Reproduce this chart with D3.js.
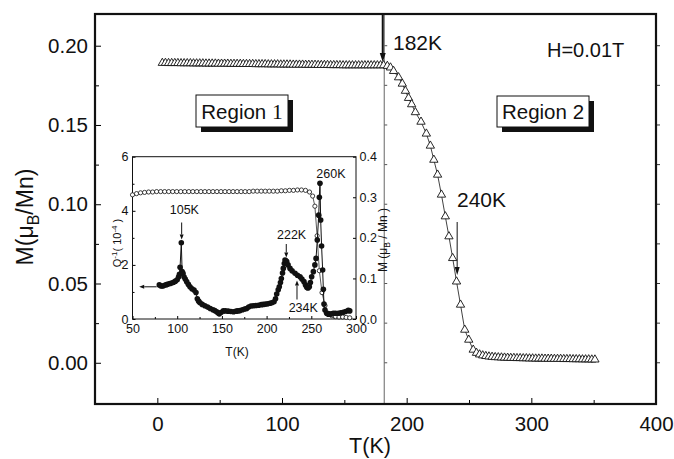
<!DOCTYPE html>
<html>
<head>
<meta charset="utf-8">
<script src="https://cdn.jsdelivr.net/npm/d3@7"></script>
<style>
  body { margin: 0; background: #fff; }
  text { font-family: "Liberation Sans", Arial, sans-serif; fill: #111; }
</style>
</head>
<body>
<div id="chart"></div>
<script>
"use strict";

// main curve, M (muB/Mn) vs T (K), H = 0.01T   [T, M]
var mainData = [
  [4,0.1891],[6.5,0.1891],[9,0.1890],[11.5,0.1890],[14,0.1890],[16.5,0.1890],[19,0.1889],[21.5,0.1889],
  [24,0.1889],[26.5,0.1889],[29,0.1888],[31.5,0.1888],[34,0.1888],[36.5,0.1888],[39,0.1887],[41.5,0.1887],
  [44,0.1887],[46.5,0.1887],[49,0.1886],[51.5,0.1886],[54,0.1886],[56.5,0.1886],[59,0.1885],[61.5,0.1885],
  [64,0.1885],[66.5,0.1885],[69,0.1884],[71.5,0.1884],[74,0.1884],[76.5,0.1884],[79,0.1883],[81.5,0.1883],
  [84,0.1883],[86.5,0.1883],[89,0.1882],[91.5,0.1882],[94,0.1882],[96.5,0.1882],[99,0.1881],[101.5,0.1881],
  [104,0.1881],[106.5,0.1881],[109,0.1880],[111.5,0.1880],[114,0.1880],[116.5,0.1880],[119,0.1879],[121.5,0.1879],
  [124,0.1879],[126.5,0.1879],[129,0.1878],[131.5,0.1878],[134,0.1878],[136.5,0.1878],[139,0.1877],[141.5,0.1877],
  [144,0.1877],[146.5,0.1877],[149,0.1876],[151.5,0.1876],[154,0.1876],[156.5,0.1876],[159,0.1876],[161.5,0.1876],
  [164,0.1876],[166.5,0.1876],[169,0.1876],[171.5,0.1876],[174,0.1876],[176.5,0.1876],[179,0.1876],[181.5,0.1876],
  [184.5,0.1872],[187,0.1862],[189.5,0.1840],[193.5,0.1800],[196.5,0.1760],[199,0.1715],[201.5,0.1670],[204,0.1630],
  [207,0.1580],[211.5,0.1520],[215.8,0.1445],[219,0.1369],[221.8,0.1280],[224.8,0.1186],[227.9,0.1060],[231,0.0923],
  [233.9,0.0797],[236.9,0.0660],[240,0.0512],[243.2,0.0366],[246.6,0.0208],[249.8,0.0145],[253.4,0.0082],
  [256,0.0062],[258.5,0.0052],[261,0.0046],[263.5,0.0042],[266,0.0039],[268.5,0.0037],[271,0.0035],[273.5,0.0034],
  [276,0.0033],[278.5,0.0032],[281,0.0031],[283.5,0.0030],[286,0.0030],[288.5,0.0029],[291,0.0029],[293.5,0.0028],
  [296,0.0028],[298.5,0.0027],[301,0.0027],[303.5,0.0026],[306,0.0026],[308.5,0.0026],[311,0.0025],[313.5,0.0025],
  [316,0.0025],[318.5,0.0024],[321,0.0024],[323.5,0.0024],[326,0.0023],[328.5,0.0023],[331,0.0023],[333.5,0.0022],
  [336,0.0022],[338.5,0.0022],[341,0.0021],[343.5,0.0021],[346,0.0021],[348.5,0.0020],[351,0.0020]
];

// inset: M (open circles, right axis)   [T, M]
var insetM = [
  [50,0.306],[54.5,0.309],[59,0.311],[63.5,0.312],[68,0.313],[72.5,0.313],[77,0.314],[81.5,0.314],
  [86,0.314],[90.5,0.314],[95,0.314],[99.5,0.314],[104,0.314],[108.5,0.314],[113,0.314],[117.5,0.314],
  [122,0.314],[126.5,0.314],[131,0.314],[135.5,0.314],[140,0.314],[144.5,0.314],[149,0.314],[153.5,0.314],
  [158,0.314],[162.5,0.314],[167,0.314],[171.5,0.314],[176,0.314],[180.5,0.314],[185,0.315],[189.5,0.315],
  [194,0.315],[198.5,0.315],[203,0.315],[207.5,0.315],[212,0.315],[216.5,0.316],[221,0.316],[225.5,0.317],
  [230,0.317],[234.5,0.318],[239,0.318],[243.5,0.317],[248,0.313],[251.5,0.303],[254,0.278],[256.5,0.205],
  [259,0.119],[262,0.065],[265.3,0.033],[269,0.014],[273,0.008],[277,0.006],[281,0.005],[285,0.005],
  [289,0.004],[293,0.003]
];

// inset: internal friction Q^-1 (filled circles, left axis, 1e-4)   [T, Q]
var insetQ = [
  [80,1.26],[82,1.22],[84,1.22],[86,1.25],[88,1.27],[90,1.29],[92,1.31],[94,1.33],[96,1.36],[98,1.40],
  [100,1.45],[101.5,1.55],[102.5,1.65],[103.2,1.91],[104.6,2.82],[105.5,1.75],[106.5,1.69],[107.6,1.56],
  [109,1.48],[110.6,1.38],[112.5,1.28],[114.3,1.19],[116.5,1.12],[118.8,1.07],[121,0.98],[122.5,0.75],
  [124,0.66],[125.5,0.60],[128,0.54],[131,0.49],[134,0.44],[137,0.39],[140,0.34],[142,0.31],[144.2,0.27],
  [146,0.22],[147.1,0.19],[149,0.24],[151.6,0.30],[154,0.30],[157,0.29],[160,0.28],[163,0.27],[166,0.29],
  [168,0.30],[170.3,0.31],[173,0.34],[175.5,0.37],[177.7,0.39],[180,0.44],[182.5,0.48],[185.2,0.49],
  [188,0.50],[191,0.51],[194,0.53],[196.3,0.54],[199,0.55],[201.5,0.56],[203.8,0.58],[206,0.60],[208.3,0.64],
  [210,0.75],[211.3,0.92],[213,1.08],[214.2,1.19],[215.5,1.35],[216.5,1.50],[217.8,1.70],[218.7,1.87],
  [219.8,2.05],[220.6,2.18],[221.5,2.15],[222.5,2.12],[224,2.00],[226.2,1.87],[228.5,1.78],[231.8,1.69],
  [234.5,1.62],[237.4,1.56],[239.5,1.48],[241.8,1.38],[243.5,1.26],[244.9,1.17],[246.3,1.15],[247.8,1.19],
  [249,1.35],[250.4,1.56],[252.3,1.75],[254,2.00],[255.3,2.24],[256.7,2.92],[258.3,3.84],[259,4.50],
  [259.7,5.02],[260.5,3.66],[261.5,2.70],[262.7,1.81],[263.5,1.10],[264.2,0.55],[265.3,0.33],[267.2,0.21],
  [269,0.18],[270.9,0.18],[273,0.19],[274.6,0.21],[277,0.21],[280.2,0.21],[283,0.23],[285.8,0.25],
  [288.5,0.28],[291.4,0.32],[293,0.30]
];

var xTicks = [0, 100, 200, 300, 400];
var xMinor = [-50, 50, 150, 250, 350];
var yTicks = [0, 0.05, 0.10, 0.15, 0.20];
var yMinor = [0.025, 0.075, 0.125, 0.175];
var insetXTicks = [50, 100, 150, 200, 250, 300];
var insetXMinor = [75, 125, 175, 225, 275];
var insetQTicks = [0, 2, 4, 6];
var insetQMinor = [1, 3, 5];
var insetMTicks = [0, 0.1, 0.2, 0.3, 0.4];
var transitionT = 182;

var svg = d3.select("#chart").append("svg")
  .attr("width", 674)
  .attr("height", 459);

var x = d3.scaleLinear().domain([-50, 400]).range([95, 656]);
var y = d3.scaleLinear().domain([-0.026, 0.22]).range([404, 14]);

// arrow helper: shaft plus filled head at (x2, y2)
function arrow(g, x1, y1, x2, y2, sw, hl, hw) {
  var dx = x2 - x1, dy = y2 - y1, len = Math.sqrt(dx * dx + dy * dy);
  var ux = dx / len, uy = dy / len;
  var bx = x2 - ux * hl, by = y2 - uy * hl;
  g.append("line")
    .attr("x1", x1).attr("y1", y1)
    .attr("x2", bx).attr("y2", by)
    .attr("stroke", "#111")
    .attr("stroke-width", sw);
  g.append("path")
    .attr("d", "M" + x2 + "," + y2 +
      "L" + (bx - uy * hw / 2) + "," + (by + ux * hw / 2) +
      "L" + (bx + uy * hw / 2) + "," + (by - ux * hw / 2) + "Z")
    .attr("fill", "#111");
}

//// main axes
svg.append("g")
  .attr("transform", "translate(95,0)")
  .call(d3.axisLeft(y).tickValues(yTicks).tickSize(-6).tickPadding(7).tickFormat(d3.format(".2f")))
  .call(function(g) { g.select(".domain").remove(); })
  .selectAll("text").attr("font-size", 20.5).attr("font-family", "Liberation Sans, Arial, sans-serif");
svg.append("g")
  .attr("transform", "translate(95,0)")
  .call(d3.axisLeft(y).tickValues(yMinor).tickSize(-4).tickFormat(""))
  .call(function(g) { g.select(".domain").remove(); });

svg.append("g")
  .attr("transform", "translate(0,404)")
  .call(d3.axisBottom(x).tickValues(xTicks).tickSize(-6).tickPadding(12).tickFormat(d3.format("d")))
  .call(function(g) { g.select(".domain").remove(); })
  .selectAll("text").attr("font-size", 20.5).attr("font-family", "Liberation Sans, Arial, sans-serif");
svg.append("g")
  .attr("transform", "translate(0,404)")
  .call(d3.axisBottom(x).tickValues(xMinor).tickSize(-4).tickFormat(""))
  .call(function(g) { g.select(".domain").remove(); });

// mirrored ticks on right frame and on the 182K line
var allY = yTicks.concat(yMinor);
svg.append("g").selectAll("line").data(allY).enter().append("line")
  .attr("x1", 656).attr("x2", 660)
  .attr("y1", function(d) { return y(d); })
  .attr("y2", function(d) { return y(d); })
  .attr("stroke", "#333").attr("stroke-width", 1);
svg.append("g").selectAll("line").data(allY).enter().append("line")
  .attr("x1", x(transitionT)).attr("x2", x(transitionT) + 3)
  .attr("y1", function(d) { return y(d); })
  .attr("y2", function(d) { return y(d); })
  .attr("stroke", "#555").attr("stroke-width", 1);

svg.append("line")
  .attr("x1", x(transitionT)).attr("x2", x(transitionT))
  .attr("y1", 14).attr("y2", 404)
  .attr("stroke", "#666").attr("stroke-width", 1);

svg.append("rect")
  .attr("x", 95).attr("y", 14)
  .attr("width", 561).attr("height", 390)
  .attr("fill", "none").attr("stroke", "#111").attr("stroke-width", 2.2);

svg.append("text")
  .attr("x", 370).attr("y", 453)
  .attr("text-anchor", "middle")
  .attr("font-size", 21.5)
  .text("T(K)");

var yTitle = svg.append("text")
  .attr("transform", "translate(33,217) rotate(-90)")
  .attr("text-anchor", "middle")
  .attr("font-size", 23);
yTitle.append("tspan").text("M(\u03bc");
yTitle.append("tspan").attr("font-size", 16).attr("dy", 6).text("B");
yTitle.append("tspan").attr("dy", -6).text("/Mn)");

//// main curve
var line = d3.line()
  .x(function(d) { return x(d[0]); })
  .y(function(d) { return y(d[1]); });

svg.append("path")
  .datum(mainData)
  .attr("d", line)
  .attr("fill", "none")
  .attr("stroke", "#111")
  .attr("stroke-width", 0.8);

var tri = d3.symbol().type(d3.symbolTriangle).size(30);
svg.append("g").selectAll("path").data(mainData).enter().append("path")
  .attr("d", tri)
  .attr("transform", function(d) { return "translate(" + x(d[0]) + "," + y(d[1]) + ")"; })
  .attr("fill", "#fff")
  .attr("stroke", "#111")
  .attr("stroke-width", 0.9);

//// annotations
var ann = svg.append("g");
arrow(ann, x(transitionT) - 1.5, 15, x(transitionT) - 1.5, 62, 2, 9, 6);
ann.append("text").attr("x", 393).attr("y", 50).attr("font-size", 21).text("182K");
ann.append("text").attr("x", 547).attr("y", 57).attr("font-size", 20).text("H=0.01T");
arrow(ann, x(240.5), 222, x(240.5), 275, 1, 8, 5);
ann.append("text").attr("x", 457).attr("y", 207).attr("font-size", 21).text("240K");

function regionBox(bx, by, bw, bh, label, num, serif) {
  ann.append("rect")
    .attr("x", bx + 5).attr("y", by + 5)
    .attr("width", bw).attr("height", bh)
    .attr("fill", "#111");
  ann.append("rect")
    .attr("x", bx).attr("y", by)
    .attr("width", bw).attr("height", bh)
    .attr("fill", "#fff").attr("stroke", "#111").attr("stroke-width", 1);
  var t = ann.append("text")
    .attr("x", bx + bw / 2).attr("y", by + bh - 8)
    .attr("text-anchor", "middle")
    .attr("font-size", 20.5);
  t.append("tspan").text(label);
  var n = t.append("tspan").text(num);
  if (serif) n.style("font-family", "'Liberation Serif', 'Times New Roman', serif").attr("font-size", 21.5);
}
regionBox(196, 95, 92, 32, "Region ", "1", true);
regionBox(497, 96, 92, 31, "Region ", "2", false);

//// inset
var xi = d3.scaleLinear().domain([50, 300]).range([132.5, 356]);
var yq = d3.scaleLinear().domain([0, 6]).range([319, 156.7]);
var ym = d3.scaleLinear().domain([0, 0.4]).range([319, 156.7]);
var inset = svg.append("g");

inset.append("rect")
  .attr("x", 132.5).attr("y", 156.7)
  .attr("width", 223.5).attr("height", 162.3)
  .attr("fill", "#fff");

function styleInsetText(sel) {
  sel.selectAll("text").attr("font-size", 12.5).attr("font-family", "Liberation Sans, Arial, sans-serif");
}
inset.append("g")
  .attr("transform", "translate(132.5,0)")
  .call(d3.axisLeft(yq).tickValues(insetQTicks).tickSize(-3).tickPadding(4).tickFormat(d3.format("d")))
  .call(function(g) { g.select(".domain").remove(); })
  .call(styleInsetText);
inset.append("g")
  .attr("transform", "translate(132.5,0)")
  .call(d3.axisLeft(yq).tickValues(insetQMinor).tickSize(-2).tickFormat(""))
  .call(function(g) { g.select(".domain").remove(); });
inset.append("g")
  .attr("transform", "translate(356,0)")
  .call(d3.axisRight(ym).tickValues(insetMTicks).tickSize(-3).tickPadding(3.5).tickFormat(d3.format(".1f")))
  .call(function(g) { g.select(".domain").remove(); })
  .call(styleInsetText);
inset.append("g")
  .attr("transform", "translate(0,319)")
  .call(d3.axisBottom(xi).tickValues(insetXTicks).tickSize(-3).tickPadding(5).tickFormat(d3.format("d")))
  .call(function(g) { g.select(".domain").remove(); })
  .call(styleInsetText);
inset.append("g")
  .attr("transform", "translate(0,319)")
  .call(d3.axisBottom(xi).tickValues(insetXMinor).tickSize(-2).tickFormat(""))
  .call(function(g) { g.select(".domain").remove(); });

inset.append("rect")
  .attr("x", 132.5).attr("y", 156.7)
  .attr("width", 223.5).attr("height", 162.3)
  .attr("fill", "none").attr("stroke", "#111").attr("stroke-width", 1);

inset.append("text")
  .attr("x", 237).attr("y", 356)
  .attr("text-anchor", "middle")
  .attr("font-size", 12)
  .text("T(K)");

var qTitle = inset.append("text")
  .attr("transform", "translate(121,243) rotate(-90)")
  .attr("text-anchor", "middle")
  .attr("font-size", 11);
qTitle.append("tspan").text("Q");
qTitle.append("tspan").attr("font-size", 8).attr("dy", -4).text("-1");
qTitle.append("tspan").attr("dy", 4).text("( 10");
qTitle.append("tspan").attr("font-size", 8).attr("dy", -4).text("-4");
qTitle.append("tspan").attr("dy", 4).text(" )");

var mTitle = inset.append("text")
  .attr("transform", "translate(387,240) rotate(-90)")
  .attr("text-anchor", "middle")
  .attr("font-size", 12);
mTitle.append("tspan").text("M (\u03bc");
mTitle.append("tspan").attr("font-size", 8.5).attr("dy", 3).text("B");
mTitle.append("tspan").attr("dy", -3).text(" / Mn )");

var lineM = d3.line()
  .x(function(d) { return xi(d[0]); })
  .y(function(d) { return ym(d[1]); });
var lineQ = d3.line()
  .x(function(d) { return xi(d[0]); })
  .y(function(d) { return yq(d[1]); });

inset.append("path").datum(insetM).attr("d", lineM)
  .attr("fill", "none").attr("stroke", "#111").attr("stroke-width", 0.7);
inset.append("g").selectAll("circle").data(insetM).enter().append("circle")
  .attr("cx", function(d) { return xi(d[0]); })
  .attr("cy", function(d) { return ym(d[1]); })
  .attr("r", 2.1)
  .attr("fill", "#fff")
  .attr("stroke", "#111")
  .attr("stroke-width", 0.8);

inset.append("path").datum(insetQ).attr("d", lineQ)
  .attr("fill", "none").attr("stroke", "#111").attr("stroke-width", 1);
inset.append("g").selectAll("circle").data(insetQ).enter().append("circle")
  .attr("cx", function(d) { return xi(d[0]); })
  .attr("cy", function(d) { return yq(d[1]); })
  .attr("r", 2.8)
  .attr("fill", "#111");

// inset labels and arrows
arrow(inset, xi(105), 222.5, xi(105), 239.5, 1, 5, 4);
inset.append("text").attr("x", xi(108)).attr("y", 214).attr("text-anchor", "middle").attr("font-size", 12.5).text("105K");
arrow(inset, xi(222), 244, xi(222), 257.5, 1, 5, 4);
inset.append("text").attr("x", xi(228)).attr("y", 239).attr("text-anchor", "middle").attr("font-size", 12.5).text("222K");
arrow(inset, xi(234), 299.5, xi(234), 280.5, 1, 5, 4);
inset.append("text").attr("x", xi(241)).attr("y", 312).attr("text-anchor", "middle").attr("font-size", 12.5).text("234K");
inset.append("text").attr("x", xi(272)).attr("y", 178).attr("text-anchor", "middle").attr("font-size", 12.5).text("260K");
arrow(inset, xi(77), yq(1.19), xi(57.5), yq(1.19), 1, 5, 4);
</script>
</body>
</html>
